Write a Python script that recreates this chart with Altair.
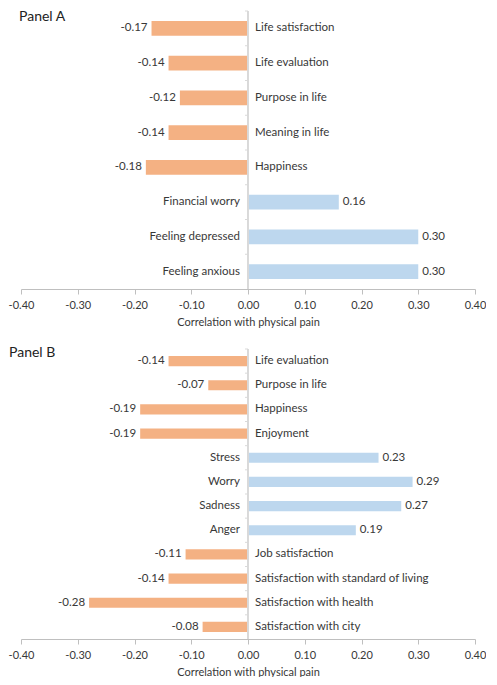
import altair as alt
import pandas as pd

# Panel A data
a_cats = ["Life satisfaction", "Life evaluation", "Purpose in life", "Meaning in life",
          "Happiness", "Financial worry", "Feeling depressed", "Feeling anxious"]
a_vals = [-0.17, -0.14, -0.12, -0.14, -0.18, 0.16, 0.30, 0.30]

# Panel B data
b_cats = ["Life evaluation", "Purpose in life", "Happiness", "Enjoyment", "Stress", "Worry",
          "Sadness", "Anger", "Job satisfaction", "Satisfaction with standard of living",
          "Satisfaction with health", "Satisfaction with city"]
b_vals = [-0.14, -0.07, -0.19, -0.19, 0.23, 0.29, 0.27, 0.19, -0.11, -0.14, -0.28, -0.08]

x_ticks = [-0.4, -0.3, -0.2, -0.1, 0.0, 0.1, 0.2, 0.3, 0.4]

ORANGE = "#F4B183"
BLUE = "#BDD7EE"
TXT = "#383838"
LINE = "#D9D9D9"
FONT = "Lato"


def panel(cats, vals, name, W, H, title_dx, title_dy):
    df = pd.DataFrame({"cat": cats, "val": vals,
                       "lab": [f"{v:.2f}" for v in vals]})
    step = H / len(cats)
    x = alt.X("val:Q",
              scale=alt.Scale(domain=[-0.4, 0.4], nice=False),
              axis=alt.Axis(values=x_ticks,
                            labelExpr="replace(format(datum.value, '.2f'), '\u2212', '-')",
                            title="Correlation with physical pain",
                            grid=False, domainColor="#BFBFBF", tickColor="#BFBFBF",
                            tickSize=5, labelPadding=5, titlePadding=6, labelFlush=False,
                            labelFontSize=11, titleFontSize=11, titleFontWeight="normal",
                            labelColor=TXT, titleColor=TXT, labelFont=FONT, titleFont=FONT))
    y = alt.Y("cat:N", sort=cats,
              scale=alt.Scale(paddingInner=0.58, paddingOuter=0.29),
              axis=None)
    base = alt.Chart(df)
    bars = base.mark_bar().encode(
        x=x, y=y,
        color=alt.condition("datum.val < 0", alt.value(ORANGE), alt.value(BLUE)))
    zero = base.mark_rule(color=LINE, strokeWidth=1).encode(x=alt.datum(0))
    ticks = base.mark_rule(color=LINE, strokeWidth=1, x2Offset=-3, yOffset=-step / 2).encode(
        x=alt.datum(0), x2=alt.datum(0), y=y)
    tstyle = dict(fontSize=11.5, color=TXT, font=FONT)
    neg_cat = base.transform_filter("datum.val < 0").mark_text(
        align="left", dx=7, **tstyle).encode(x=alt.datum(0), y=y, text="cat:N")
    pos_cat = base.transform_filter("datum.val >= 0").mark_text(
        align="right", dx=-8, **tstyle).encode(x=alt.datum(0), y=y, text="cat:N")
    neg_val = base.transform_filter("datum.val < 0").mark_text(
        align="right", dx=-4, **tstyle).encode(x="val:Q", y=y, text="lab:N")
    pos_val = base.transform_filter("datum.val >= 0").mark_text(
        align="left", dx=4, **tstyle).encode(x="val:Q", y=y, text="lab:N")
    ttl = alt.Chart(pd.DataFrame({"t": [name]})).mark_text(
        align="left", baseline="top", fontSize=14, color="#222222", font=FONT).encode(
        text="t:N", x=alt.value(title_dx), y=alt.value(title_dy))
    return alt.layer(bars, zero, ticks, neg_cat, pos_cat, neg_val, pos_val, ttl).properties(
        width=W, height=H)


pa = panel(a_cats, a_vals, "Panel A", 454, 278, -2, -1)
pb = panel(b_cats, b_vals, "Panel B", 454, 290, -12, -3)

chart = alt.vconcat(pa, pb, spacing=19).configure(
    padding={"left": 0, "top": 2, "right": 0, "bottom": 0}).configure_view(stroke=None)

chart.save("out.html", embed_options={"renderer": "svg", "actions": False})
